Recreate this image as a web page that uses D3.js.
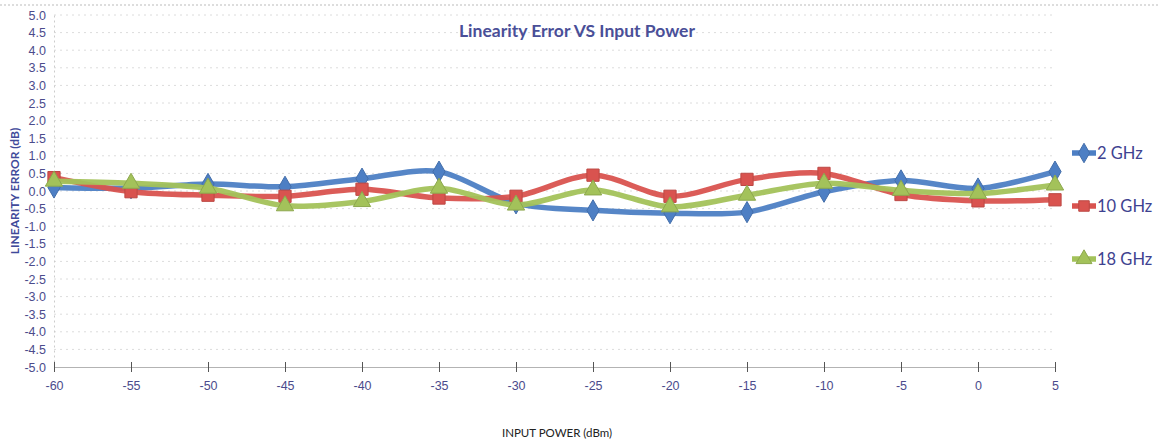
<!DOCTYPE html>
<html lang="en">
<head>
  <meta charset="UTF-8">
  <title>Linearity Error VS Input Power</title>
  <script src="https://d3js.org/d3.v7.min.js"></script>
  <style>
    body { margin: 0; background: #fff; }
    svg { display: block; font-family: Lato, "Open Sans", sans-serif; }
    .tick text { fill: #4b4b8c; }
  </style>
</head>
<body>
  <svg id="chart" width="1160" height="441"></svg>

  <script>
    const inputPower = [-60, -55, -50, -45, -40, -35, -30, -25, -20, -15, -10, -5, 0, 5];
    const ghz2  = [0.1, 0.08, 0.2, 0.12, 0.35, 0.55, -0.35, -0.55, -0.63, -0.6, -0.02, 0.3, 0.07, 0.55];
    const ghz10 = [0.38, -0.02, -0.12, -0.15, 0.05, -0.2, -0.15, 0.45, -0.15, 0.33, 0.5, -0.1, -0.28, -0.25];
    const ghz18 = [0.28, 0.22, 0.08, -0.42, -0.3, 0.08, -0.4, 0.03, -0.45, -0.12, 0.22, 0.02, -0.07, 0.17];
    const yTicks = d3.range(-5, 5.01, 0.5);

    const series = [
      { name: "2 GHz", values: ghz2, color: "#4d7fc4", marker: d3.symbolDiamond },
      { name: "10 GHz", values: ghz10, color: "#d9534f", marker: d3.symbolSquare },
      { name: "18 GHz", values: ghz18, color: "#a3c25a", marker: d3.symbolTriangle }
    ];

    // plain hyphen minus, like the original
    const fmt1 = d => d3.format(".1f")(d).replace("−", "-");
    const fmt0 = d => String(d);

    const svg = d3.select("#chart");

    const x = d3.scaleLinear().domain([-60, 5]).range([54, 1055]);
    const y = d3.scaleLinear().domain([-5, 5]).range([367, 15]);

    // dotted top border
    svg.append("line")
      .attr("x1", 0).attr("x2", 1160).attr("y1", 5).attr("y2", 5)
      .attr("stroke", "#bbb").attr("stroke-dasharray", "2,2");

    // gridlines
    svg.append("g")
      .selectAll("line")
      .data(yTicks.filter(v => v > -5))
      .join("line")
      .attr("x1", x(-60)).attr("x2", x(5))
      .attr("y1", d => y(d)).attr("y2", d => y(d))
      .attr("stroke", "#dcdcdc")
      .attr("stroke-dasharray", "2,4");

    // y axis
    const yAxis = svg.append("g")
      .attr("transform", `translate(${x(-60)},0)`)
      .call(d3.axisLeft(y).tickValues(yTicks).tickFormat(fmt1).tickSize(0).tickPadding(8));
    yAxis.select(".domain").attr("stroke", "#ccc").attr("stroke-dasharray", "2,3");
    yAxis.selectAll("text").attr("font-size", 12.5);

    // x axis at bottom
    const xAxis = svg.append("g")
      .attr("transform", `translate(0,${y(-5)})`)
      .call(d3.axisBottom(x).tickValues(inputPower).tickFormat(fmt0).tickSizeInner(5).tickSizeOuter(0).tickPadding(9));
    xAxis.select(".domain").attr("stroke", "#666").attr("stroke-dasharray", "1,1");
    xAxis.selectAll(".tick line").attr("stroke", "#555").attr("y1", -5);
    xAxis.selectAll("text").attr("font-size", 12.5);

    // lines
    const line = d3.line()
      .x((d, i) => x(inputPower[i]))
      .y(d => y(d))
      .curve(d3.curveCardinal.tension(0.1));

    series.forEach(s => {
      svg.append("path")
        .datum(s.values)
        .attr("d", line)
        .attr("fill", "none")
        .attr("stroke", s.color)
        .attr("stroke-width", 5.5)
        .attr("stroke-opacity", 0.95);

      svg.append("g")
        .selectAll("path")
        .data(s.values)
        .join("path")
        .attr("transform", (d, i) => `translate(${x(inputPower[i])},${y(d)})`)
        .attr("d", d3.symbol().type(s.marker).size(s.marker === d3.symbolSquare ? 150 : 130))
        .attr("fill", s.color)
        .attr("stroke", d3.color(s.color).darker(0.4))
        .attr("stroke-width", 1);
    });

    // legend
    const legend = svg.append("g")
      .selectAll("g")
      .data(series)
      .join("g")
      .attr("transform", (d, i) => `translate(1072,${153 + i * 53})`);
    legend.append("line")
      .attr("x1", 0).attr("x2", 24)
      .attr("stroke", d => d.color).attr("stroke-width", 5.5);
    legend.append("path")
      .attr("transform", "translate(12,0)")
      .attr("d", d => d3.symbol().type(d.marker).size(110)())
      .attr("fill", d => d.color)
      .attr("stroke", d => d3.color(d.color).darker(0.4));
    legend.append("text")
      .attr("x", 25).attr("dy", "0.35em")
      .attr("font-size", 16.5)
      .attr("fill", "#3e4290")
      .text(d => d.name);

    // titles
    svg.append("text")
      .attr("x", 577).attr("y", 37)
      .attr("text-anchor", "middle")
      .attr("font-size", 17.5).attr("font-weight", "bold")
      .attr("fill", "#4a4f98")
      .text("Linearity Error VS Input Power");

    svg.append("text")
      .attr("transform", "translate(19,191) rotate(-90)")
      .attr("text-anchor", "middle")
      .attr("font-size", 12).attr("font-weight", "bold")
      .attr("fill", "#3f4a9a")
      .text("LINEARITY ERROR (dB)");

    svg.append("text")
      .attr("x", 557).attr("y", 437)
      .attr("text-anchor", "middle")
      .attr("font-size", 11.5)
      .attr("fill", "#222")
      .text("INPUT POWER (dBm)");
  </script>
</body>
</html>
